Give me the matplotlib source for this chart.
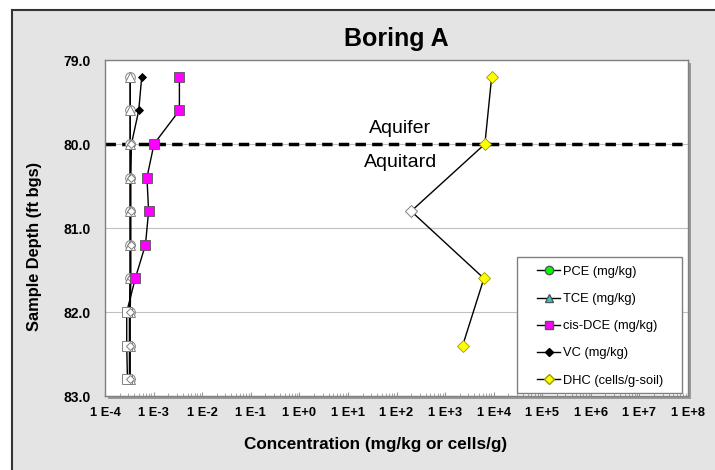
import numpy as np
import matplotlib
matplotlib.use("Agg")
import matplotlib.pyplot as plt
from matplotlib.lines import Line2D
from matplotlib.patches import Rectangle
from matplotlib.ticker import LogLocator, FixedLocator, NullFormatter

plt.rcParams['font.family'] = ['Liberation Sans', 'DejaVu Sans']

depth = [79.2, 79.6, 80.0, 80.4, 80.8, 81.2, 81.6, 82.0, 82.4, 82.8]

pce = [3.3e-4, 3.3e-4, 3.3e-4, 3.3e-4, 3.3e-4, 3.3e-4, 3.3e-4, 3.2e-4, 3.2e-4, 3.2e-4]
pce_det = [0, 0, 0, 0, 0, 0, 0, 0, 0, 0]

tce = [3.3e-4, 3.3e-4, 3.3e-4, 3.3e-4, 3.3e-4, 3.3e-4, 3.3e-4, 3.2e-4, 3.2e-4, 3.2e-4]
tce_det = [0, 0, 0, 0, 0, 0, 0, 0, 0, 0]

cis_dce = [3.4e-3, 3.4e-3, 1.02e-3, 7.3e-4, 7.9e-4, 6.8e-4, 4.2e-4, 2.8e-4, 2.8e-4, 2.9e-4]
cis_det = [1, 1, 1, 1, 1, 1, 1, 0, 0, 0]

vc = [5.7e-4, 4.95e-4, 3.5e-4, 3.4e-4, 3.4e-4, 3.4e-4, 3.4e-4, 3.3e-4, 3.3e-4, 3.3e-4]
vc_det = [1, 1, 0, 0, 0, 0, 0, 0, 0, 0]

dhc_depth = [79.2, 80.0, 80.8, 81.6, 82.4]
dhc = [9.1e3, 6.6e3, 2.0e2, 6.3e3, 2.3e3]
dhc_det = [1, 1, 0, 1, 1]

xticks = [1e-4, 1e-3, 1e-2, 1e-1, 1e0, 1e1, 1e2, 1e3, 1e4, 1e5, 1e6, 1e7, 1e8]
xtick_labels = ["1 E-4", "1 E-3", "1 E-2", "1 E-1", "1 E+0", "1 E+1", "1 E+2",
                "1 E+3", "1 E+4", "1 E+5", "1 E+6", "1 E+7", "1 E+8"]
yticks = [79.0, 80.0, 81.0, 82.0, 83.0]

fig = plt.figure(figsize=(7.15, 4.7), dpi=100, facecolor="white")
W, H = 715, 470

# gray chart area with dark frame on left/top
fig.patches.append(Rectangle((12 / W, 0), 1, 1 - 10 / H, transform=fig.transFigure,
                             facecolor="#e4e4e4", edgecolor="none", zorder=-2))
fig.add_artist(Line2D([12 / W, 12 / W], [0, 1 - 10 / H], color="#333333", lw=1.5,
                      transform=fig.transFigure, zorder=-1))
fig.add_artist(Line2D([12 / W, 1], [1 - 10 / H, 1 - 10 / H], color="#333333", lw=1.5,
                      transform=fig.transFigure, zorder=-1))

L, R, T, B = 105, 688, 60, 396
# shadow behind plot area
fig.patches.append(Rectangle(((L + 3) / W, (H - B - 3) / H), (R - L) / W, (B - T) / H,
                             transform=fig.transFigure, facecolor="#9a9a9a",
                             edgecolor="none", zorder=-1))
ax = fig.add_axes([L / W, (H - B) / H, (R - L) / W, (B - T) / H])
ax.set_zorder(2)
ax.set_facecolor("white")

ax.set_xscale("log")
ax.set_xlim(1e-4, 1e8)
ax.set_ylim(83.0, 79.0)

ax.yaxis.set_major_locator(FixedLocator(yticks))
ax.set_yticklabels(["%.1f" % v for v in yticks], fontsize=10, fontweight="bold")
ax.xaxis.set_major_locator(FixedLocator(xticks))
ax.set_xticklabels(xtick_labels, fontsize=9.3, fontweight="bold")
ax.xaxis.set_minor_locator(LogLocator(base=10, subs=np.arange(2, 10), numticks=100))
ax.xaxis.set_minor_formatter(NullFormatter())
ax.tick_params(axis="x", which="major", direction="in", length=3, color="#999999", pad=8)
ax.tick_params(axis="x", which="minor", direction="in", length=2, color="#999999")
ax.tick_params(axis="y", length=0, pad=10)

ax.grid(axis="y", color="#c0c0c0", lw=0.8)
ax.set_axisbelow(True)
for s in ax.spines.values():
    s.set_color("#808080")
    s.set_linewidth(1)

ax.axhline(80.0, color="black", lw=2.5, ls=(0, (3, 1.8)), zorder=2)


def series(x, y, det, marker, color, ms, mec="#555555"):
    ax.plot(x, y, color="black", lw=1, zorder=3)
    for xi, yi, d in zip(x, y, det):
        if d:
            ax.plot(xi, yi, marker=marker, ms=ms, mfc=color, mec=mec, mew=0.6, zorder=4)
        else:
            ax.plot(xi, yi, marker=marker, ms=ms, mfc="white", mec="#808080", mew=0.7,
                    zorder=3.5)


series(pce, depth, pce_det, "o", "#00ff00", 7)
series(tce, depth, tce_det, "^", "#33cccc", 7)
series(cis_dce, depth, cis_det, "s", "#ff00ff", 7)
series(vc, depth, vc_det, "D", "black", 4.5, mec="black")
series(dhc, dhc_depth, dhc_det, "D", "#ffff00", 6, mec="#999900")

ax.text(120, 79.81, "Aquifer", fontsize=14, ha="center", va="center")
ax.text(122, 80.22, "Aquitard", fontsize=14, ha="center", va="center")

# legend box
ax.add_patch(Rectangle((0.7067, 0.009), 0.283, 0.405, transform=ax.transAxes,
                       facecolor="white", edgecolor="#808080", lw=1, zorder=5))
handles = [
    Line2D([], [], color="black", lw=1, marker="o", ms=6, mfc="#00ff00", mec="#555555"),
    Line2D([], [], color="black", lw=1, marker="^", ms=6, mfc="#33cccc", mec="#555555"),
    Line2D([], [], color="black", lw=1, marker="s", ms=6, mfc="#ff00ff", mec="#555555"),
    Line2D([], [], color="black", lw=1, marker="D", ms=4, mfc="black", mec="black"),
    Line2D([], [], color="black", lw=1, marker="D", ms=5, mfc="#ffff00", mec="#999900"),
]
labels = ["PCE (mg/kg)", "TCE (mg/kg)", "cis-DCE (mg/kg)", "VC (mg/kg)",
          "DHC (cells/g-soil)"]
leg = ax.legend(handles, labels, loc="upper left", bbox_to_anchor=(0.741, 0.387),
                fontsize=9.3, frameon=False, handlelength=1.8,
                handletextpad=0.2, labelspacing=1.17, borderpad=0, borderaxespad=0)
leg.set_zorder(6)

fig.text(396 / W, 1 - 39 / H, "Boring A", fontsize=18, fontweight="bold",
         ha="center", va="center")
fig.text(35 / W, 1 - 246 / H, "Sample Depth (ft bgs)", fontsize=11.8, fontweight="bold",
         ha="center", va="center", rotation=90)
fig.text(376 / W, 1 - 445 / H, "Concentration (mg/kg or cells/g)", fontsize=12.3,
         fontweight="bold", ha="center", va="center")

fig.savefig("out.png", dpi=100, facecolor=fig.get_facecolor())
